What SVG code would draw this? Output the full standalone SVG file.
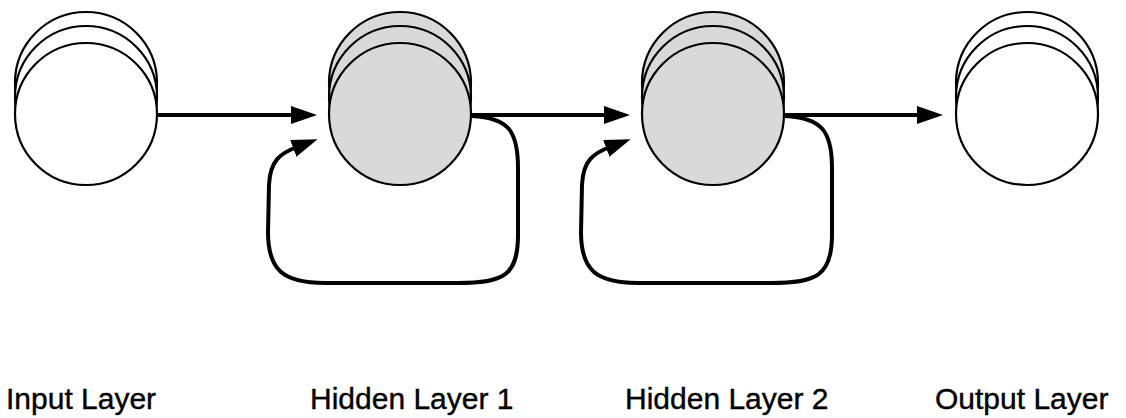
<svg xmlns="http://www.w3.org/2000/svg" width="1126" height="418" viewBox="0 0 1126 418">
<style>
.c{stroke:#000;stroke-width:2.2}
.w{fill:#fff}
.g{fill:#d9d9d9}
.e{fill:none;stroke:#000;stroke-width:4;stroke-linecap:round;stroke-linejoin:round}
.t{font-family:"Liberation Sans",Arial,sans-serif;font-size:30px;fill:#000;stroke:#000;stroke-width:0.4}
</style>
<defs>
<marker id="ah" markerUnits="userSpaceOnUse" markerWidth="27" markerHeight="19" refX="4" refY="9" orient="auto" viewBox="0 0 27 19">
<path d="M0,0 L26,9 L0,18 z" fill="#000"/>
</marker>
</defs>
<rect width="1126" height="418" fill="#fff"/>
<g id="connectors">
<path class="e" d="M158,115 L295,115" marker-end="url(#ah)"/>
<path class="e" d="M472,115 L608,115" marker-end="url(#ah)"/>
<path class="e" d="M785,115 L921,115" marker-end="url(#ah)"/>
<path class="e" d="M472,116 C508,118 518,130 518,168 L518,235 C518,276 503,283 458,283 L325,283 C283,283 268,270 268,232 L269,185 C270,160 281,153 297,147" marker-end="url(#ah)"/>
<path class="e" d="M785,116 C821,118 832,130 832,168 L832,235 C832,276 816,283 771,283 L638,283 C596,283 581,270 581,232 L582,185 C583,160 594,153 610,147" marker-end="url(#ah)"/>
</g>
<g id="input-layer">
<ellipse class="c w" cx="86" cy="83" rx="71" ry="71"/>
<ellipse class="c w" cx="86" cy="97" rx="71" ry="71"/>
<ellipse class="c w" cx="86" cy="114" rx="71" ry="71"/>
<text class="t" x="6" y="409">Input Layer</text>
</g>
<g id="hidden-layer-1">
<ellipse class="c g" cx="400" cy="83" rx="71" ry="71"/>
<ellipse class="c g" cx="400" cy="97" rx="71" ry="71"/>
<ellipse class="c g" cx="400" cy="114" rx="71" ry="71"/>
<text class="t" x="310" y="409">Hidden Layer 1</text>
</g>
<g id="hidden-layer-2">
<ellipse class="c g" cx="713" cy="83" rx="71" ry="71"/>
<ellipse class="c g" cx="713" cy="97" rx="71" ry="71"/>
<ellipse class="c g" cx="713" cy="114" rx="71" ry="71"/>
<text class="t" x="625" y="409">Hidden Layer 2</text>
</g>
<g id="output-layer">
<ellipse class="c w" cx="1027" cy="83" rx="71" ry="71"/>
<ellipse class="c w" cx="1027" cy="97" rx="71" ry="71"/>
<ellipse class="c w" cx="1027" cy="114" rx="71" ry="71"/>
<text class="t" x="935" y="409">Output Layer</text>
</g>
</svg>
